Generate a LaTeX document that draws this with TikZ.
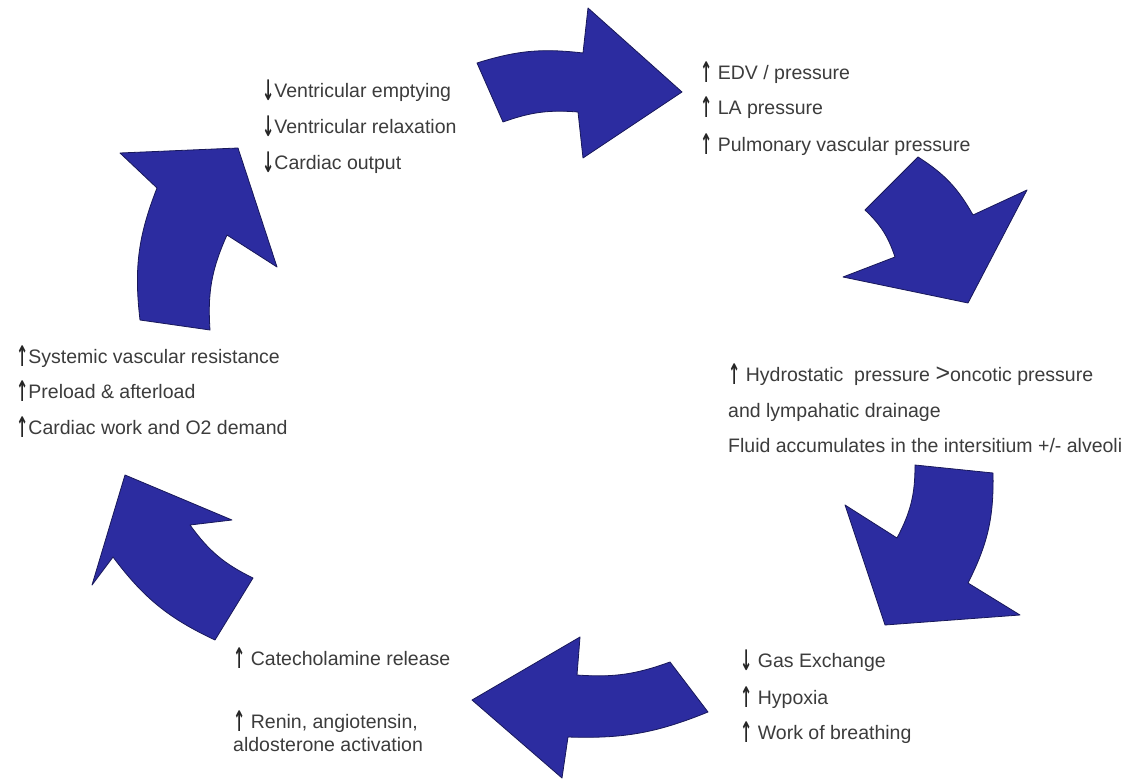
\documentclass[tikz,border=0pt]{standalone}
\usepackage{fontspec}
\setmainfont{Liberation Sans}
\newfontfamily\glyphfont{DejaVu Sans}
\usepackage{graphicx}
\usepackage{tikz}
\definecolor{cycleblue}{RGB}{44,44,160}
\definecolor{cycleline}{RGB}{24,24,90}
\definecolor{cycletext}{RGB}{60,60,60}
\newcommand{\incr}{\smash{\raisebox{-3pt}{\scalebox{0.75}[1.45]{\textcolor{black!85}{\glyphfont\bfseries ↑}}}}}
\newcommand{\decr}{\smash{\raisebox{-3pt}{\scalebox{0.75}[1.45]{\textcolor{black!85}{\glyphfont\bfseries ↓}}}}}
\tikzset{
  bigarrow/.style={fill=cycleblue, draw=cycleline, line width=0.8pt, line join=round},
  txt/.style={anchor=base west, inner sep=0pt, text=cycletext,
    font=\fontsize{19.5}{21}\selectfont}
}

\begin{document}
\begin{tikzpicture}[x=1pt,y=-1pt]
\useasboundingbox (0,0) rectangle (1134,783);
\fill[white] (0,0) rectangle (1134,783);

\draw [bigarrow] (477,63) to[bend left=12] (583,53) -- (588,8) -- (682,92)
  -- (583,158) -- (578,112) to[bend right=12] (503,122) -- cycle;
\draw [bigarrow] (918,157) to[bend left=14] (973,215) -- (1027,190) -- (968,303)
  -- (843,277) -- (895,257) to[bend right=14] (865,210) -- cycle;
\draw [bigarrow] (993,473) to[bend left=14] (968,583) -- (1020,615) -- (885,625)
  -- (845,505) -- (897,538) to[bend right=14] (915,465) -- cycle;
\draw [bigarrow] (708,712) to[bend left=12] (568,737) -- (562,778) -- (472,700)
  -- (580,637) -- (577,675) to[bend right=12] (670,662) -- cycle;
\draw [bigarrow] (215,640) to[bend left=14] (113,557) -- (92,585) -- (125,475)
  -- (232,520) -- (190,525) to[bend right=14] (253,578) -- cycle;
\draw [bigarrow] (140,320) to[bend left=14] (157,188) -- (120,153) -- (238,148)
  -- (277,267) -- (227,235) to[bend right=14] (210,330) -- cycle;

\node [txt] (empty) at (262,98) {\decr Ventricular emptying};
\node [txt] (relax) at (262,134) {\decr Ventricular relaxation};
\node [txt] (output) at (262,170) {\decr Cardiac output};

\node [txt] (edv) at (700,80) {\incr\ EDV / pressure};
\node [txt] (la) at (700,115) {\incr\ LA pressure};
\node [txt] (pulm) at (700,152) {\incr\ Pulmonary vascular pressure};

\node [txt] (hydro) at (728,381) {\incr\ Hydrostatic\ \ pressure {\fontsize{25}{25}\selectfont>}oncotic pressure};
\node [txt] (lymph) at (728,417) {and lympahatic drainage};
\node [txt] (fluid) at (728,452) {Fluid accumulates in the intersitium +/- alveoli};

\node [txt] (gas) at (740,667) {\decr\ Gas Exchange};
\node [txt] (hypox) at (740,704) {\incr\ Hypoxia};
\node [txt] (work) at (740,739) {\incr\ Work of breathing};

\node [txt] (catech) at (233,665) {\incr\ Catecholamine release};
\node [txt] (renin) at (233,728) {\incr\ Renin, angiotensin,};
\node [txt] (aldo) at (233,751) {aldosterone activation};

\node [txt] (svr) at (16,363) {\incr Systemic vascular resistance};
\node [txt] (load) at (16,398) {\incr Preload \& afterload};
\node [txt] (cwork) at (16,434) {\incr Cardiac work and O2 demand};
\end{tikzpicture}
\end{document}
